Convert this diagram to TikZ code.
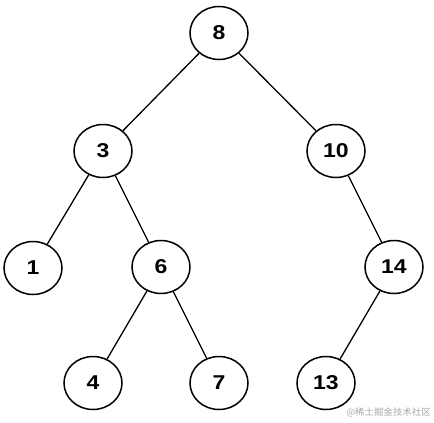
\documentclass[tikz,border=0pt]{standalone}
\usepackage{fontspec}
\usetikzlibrary{shapes.geometric}
\setmainfont{Liberation Sans}
\newfontfamily\cjk{Noto Sans CJK SC}
\newcommand{\wide}[1]{\scalebox{1.15}[1]{#1}}
\begin{document}
\begin{tikzpicture}[x=1pt,y=-1pt,
  tn/.style={ellipse,draw=black,line width=1.5pt,minimum width=58pt,minimum height=53pt,inner sep=0pt,font=\fontsize{20}{22}\selectfont\bfseries},
  ed/.style={line width=1.3pt}]
\useasboundingbox (0,0) rectangle (434,423);
\node[tn] (n8) at (219,33) {\wide{8}};
\node[tn] (n3) at (103,151) {\wide{3}};
\node[tn] (n10) at (336,151) {\wide{10}};
\node[tn] (n1) at (33,268) {\wide{1}};
\node[tn] (n6) at (161,267) {\wide{6}};
\node[tn] (n14) at (394,267) {\wide{14}};
\node[tn] (n4) at (93,383) {\wide{4}};
\node[tn] (n7) at (219,383) {\wide{7}};
\node[tn] (n13) at (326,383) {\wide{13}};
\draw[ed] (n8) -- (n3);
\draw[ed] (n8) -- (n10);
\draw[ed] (n3) -- (n1);
\draw[ed] (n3) -- (n6);
\draw[ed] (n10) -- (n14);
\draw[ed] (n6) -- (n4);
\draw[ed] (n6) -- (n7);
\draw[ed] (n14) -- (n13);
\node[text=black!35,font=\cjk\fontsize{9}{10}\selectfont,anchor=east,inner sep=0pt] (wm) at (431,412) {\scalebox{1.05}[1]{@稀土掘金技术社区}};
\end{tikzpicture}
\end{document}
